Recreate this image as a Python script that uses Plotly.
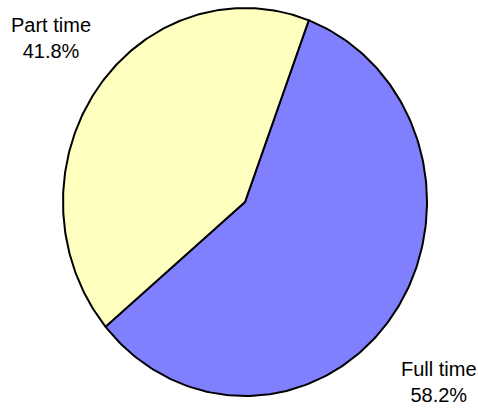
import numpy as np
import plotly.graph_objects as go

# Data
categories = ["Full time", "Part time"]
shares = [58.2, 41.8]          # percent
colors = ["#8080FF", "#FFFFC0"]

# Geometry of the (slightly elliptical) pie, in pixel-like axis units
W, H = 478, 408
cx, cy = 245, 202
rx, ry = 182, 194
start_deg = 20.5               # clockwise from 12 o'clock

fig = go.Figure()

total = sum(shares)
angle = start_deg
for name, val, col in zip(categories, shares, colors):
    sweep = 360.0 * val / total
    t = np.radians(np.linspace(angle, angle + sweep, 200))
    xs = np.concatenate([[cx], cx + rx * np.sin(t), [cx]])
    ys = np.concatenate([[cy], cy - ry * np.cos(t), [cy]])
    fig.add_trace(go.Scatter(
        x=xs, y=ys, mode="lines", fill="toself", fillcolor=col,
        line=dict(color="black", width=2), name=name,
        hoverinfo="skip", showlegend=False,
    ))
    angle += sweep

# Outside labels
label_pos = {"Full time": (439, 382), "Part time": (51, 38)}
for name, val in zip(categories, shares):
    lx, ly = label_pos[name]
    fig.add_annotation(
        x=lx, y=ly, text=f"{name}<br>{val:.1f}%", showarrow=False,
        xanchor="center", yanchor="middle", align="center",
        font=dict(family="Liberation Sans, Arial, sans-serif", size=20, color="black"),
    )

fig.update_layout(
    width=W, height=H,
    margin=dict(l=0, r=0, t=0, b=0),
    paper_bgcolor="white", plot_bgcolor="white",
    xaxis=dict(range=[0, W], visible=False, fixedrange=True),
    yaxis=dict(range=[H, 0], visible=False, fixedrange=True),
    showlegend=False,
)

fig.write_html("out.html")
